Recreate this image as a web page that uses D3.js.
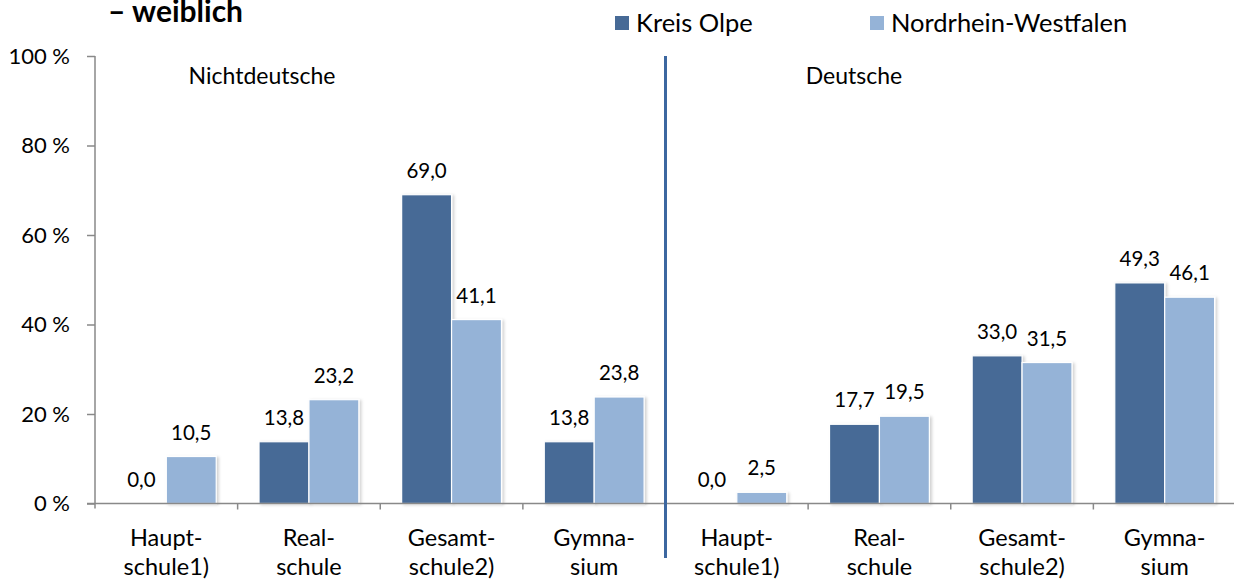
<!DOCTYPE html>
<html>
<head>
<meta charset="utf-8">
<script src="https://cdn.jsdelivr.net/npm/d3@7/dist/d3.min.js"></script>
<style>
  html, body { margin: 0; padding: 0; background: #fff; }
  svg { display: block; font-family: Lato, "Open Sans", sans-serif; }
</style>
</head>
<body>
<svg id="chart" width="1234" height="579"></svg>
<script>
// ---- data ----
const title = "– weiblich";
const groups = ["Nichtdeutsche", "Deutsche"];
const categories = [
  ["Haupt-", "schule1)"],
  ["Real-", "schule"],
  ["Gesamt-", "schule2)"],
  ["Gymna-", "sium"],
  ["Haupt-", "schule1)"],
  ["Real-", "schule"],
  ["Gesamt-", "schule2)"],
  ["Gymna-", "sium"]
];
const seriesNames = ["Kreis Olpe", "Nordrhein-Westfalen"];
const kreisOlpe = [0.0, 13.8, 69.0, 13.8, 0.0, 17.7, 33.0, 49.3];
const nrw       = [10.5, 23.2, 41.1, 23.8, 2.5, 19.5, 31.5, 46.1];
const yTicks = [0, 20, 40, 60, 80, 100];

// ---- layout ----
const colors = ["#476a96", "#95b3d7"];
const axisColor = "#898989";
const plotLeft = 95, plotRight = 1236, plotTop = 56, plotBottom = 503.5;

const svg = d3.select("#chart");

const defs = svg.append("defs");
const f = defs.append("filter").attr("id", "shadow").attr("x", "-20%").attr("y", "-20%").attr("width", "150%").attr("height", "150%");
f.append("feDropShadow").attr("dx", 2).attr("dy", 1).attr("stdDeviation", 1.5)
  .attr("flood-color", "#000").attr("flood-opacity", 0.18);

const idx = d3.range(categories.length);
const x = d3.scaleBand().domain(idx).range([plotLeft, plotRight]).paddingInner(0.3).paddingOuter(0.15);
const xs = d3.scaleBand().domain(seriesNames).range([0, x.bandwidth()]).padding(0);
const y = d3.scaleLinear().domain([0, 100]).range([plotBottom, plotTop]);

// y axis
const yAxis = svg.append("g")
  .attr("transform", `translate(${plotLeft},0)`)
  .call(d3.axisLeft(y).tickValues(yTicks).tickFormat(d => d + " %").tickSize(8).tickPadding(17));
yAxis.select(".domain").remove();
yAxis.selectAll(".tick line").attr("stroke", axisColor).attr("stroke-width", 1.5);
yAxis.selectAll(".tick text").attr("fill", "#000").style("font-size", "22px").style("font-family", "Lato");
svg.append("line").attr("x1", plotLeft).attr("x2", plotLeft).attr("y1", plotTop).attr("y2", plotBottom + 5)
  .attr("stroke", axisColor).attr("stroke-width", 1.5);

// bars
const step = x.step();
const bars = [];
idx.forEach(i => {
  bars.push({ i, s: seriesNames[0], v: kreisOlpe[i] });
  bars.push({ i, s: seriesNames[1], v: nrw[i] });
});

svg.append("g").selectAll("rect").data(bars.filter(d => d.v > 0)).join("rect")
  .attr("x", d => x(d.i) + xs(d.s))
  .attr("y", d => y(d.v))
  .attr("width", xs.bandwidth())
  .attr("height", d => y(0) - y(d.v))
  .attr("fill", (d) => colors[seriesNames.indexOf(d.s)])
  .attr("stroke", "#fff").attr("stroke-width", 1.2)
  .attr("filter", "url(#shadow)");

// x axis line + ticks at category boundaries
svg.append("line").attr("x1", plotLeft - 8).attr("x2", plotRight).attr("y1", plotBottom).attr("y2", plotBottom)
  .attr("stroke", axisColor).attr("stroke-width", 1.5);
const boundaries = d3.range(1, categories.length).map(i => plotLeft + i * step);
svg.append("g").selectAll("line").data(boundaries).join("line")
  .attr("x1", d => d).attr("x2", d => d).attr("y1", plotBottom).attr("y2", plotBottom + 6)
  .attr("stroke", axisColor).attr("stroke-width", 1.5);

// value labels
svg.append("g").selectAll("text").data(bars).join("text")
  .attr("x", d => x(d.i) + xs(d.s) + xs.bandwidth() / 2)
  .attr("y", d => y(d.v) - 24)
  .attr("dy", "0.35em")
  .attr("text-anchor", "middle")
  .style("font-size", "20.5px")
  .attr("fill", "#000")
  .text(d => d3.format(".1f")(d.v).replace(".", ","));

// category labels
const cl = svg.append("g").selectAll("text").data(idx).join("text")
  .attr("text-anchor", "middle")
  .style("font-size", "23.5px")
  .attr("fill", "#000");
cl.append("tspan").attr("x", i => x(i) + x.bandwidth() / 2).attr("y", 538).attr("dy", "0.35em").text(i => categories[i][0]);
cl.append("tspan").attr("x", i => x(i) + x.bandwidth() / 2).attr("y", 567).attr("dy", "0.35em").text(i => categories[i][1]);

// divider between groups
const half = categories.length / 2;
const divX = plotLeft + half * step;
svg.append("line").attr("x1", divX).attr("x2", divX).attr("y1", plotTop).attr("y2", 558)
  .attr("stroke", "#3c67a0").attr("stroke-width", 3);

// group labels
svg.append("g").selectAll("text").data(groups).join("text")
  .attr("x", (d, g) => g === 0 ? 262 : 854)
  .attr("y", 76)
  .attr("dy", "0.35em")
  .attr("text-anchor", "middle")
  .style("font-size", "23px")
  .attr("fill", "#000")
  .text(d => d);

// title
svg.append("text").attr("x", 108).attr("y", 22)
  .style("font-size", "30px").style("font-weight", "bold").attr("fill", "#000")
  .text(title);

// legend
const legendX = [615, 870];
const lg = svg.append("g").selectAll("g").data(seriesNames).join("g")
  .attr("transform", (d, i) => `translate(${legendX[i]},0)`);
lg.append("rect").attr("x", 0).attr("y", 16).attr("width", 14).attr("height", 14)
  .attr("fill", (d, i) => colors[i]);
lg.append("text").attr("x", 21).attr("y", 23).attr("dy", "0.35em")
  .style("font-size", "25.5px").attr("fill", "#000").text(d => d);
</script>
</body>
</html>
